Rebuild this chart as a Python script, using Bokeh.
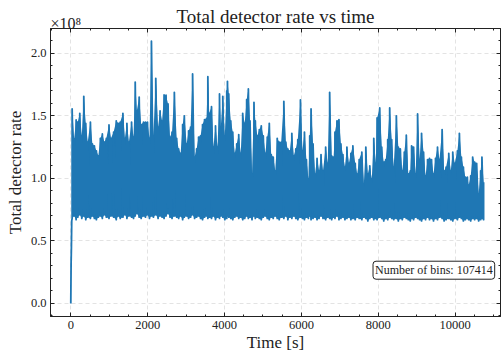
from bokeh.plotting import figure
from bokeh.models import (Range1d, LinearAxis, Label, Title, CustomJSTickFormatter,
                          SingleIntervalTicker, NumeralTickFormatter)
from bokeh.embed import file_html
from bokeh.resources import INLINE

# ---------------- data (rate in units of 1e8 counts/s) ----------------
ramp_t = [0, 8, 16, 24]
ramp_v = [0.0, 0.32, 0.45, 0.66]

time_s = [
    35, 87, 139, 182, 234, 286, 338, 389, 441, 510,
    562, 614, 666, 717, 769, 821, 873, 925, 994, 1046,
    1115, 1183, 1235, 1287, 1356, 1408, 1460, 1512, 1581, 1632,
    1676, 1719, 1779, 1831, 1892, 1943, 1995, 2047, 2098, 2150,
    2211, 2271, 2323, 2375, 2427, 2478, 2530, 2582, 2634, 2694,
    2755, 2806, 2858, 2910, 2953, 3014, 3065, 3117, 3169, 3221,
    3273, 3325, 3376, 3428, 3480, 3532, 3566, 3601,
    3661, 3713, 3765, 3817, 3869, 3903, 3955, 4007, 4058, 4076,
    4110, 4162, 4214, 4266, 4317, 4369, 4421, 4473, 4525, 4576,
    4620, 4663, 4715, 4766, 4801, 4853, 4905, 4956, 5008, 5060,
    5112, 5164, 5215, 5267, 5319, 5371, 5423, 5474, 5543, 5595,
    5647, 5699, 5751, 5802, 5854, 5906, 5975, 6027, 6079, 6130,
    6182, 6217, 6251, 6303, 6355, 6407, 6459, 6510, 6562, 6631,
    6683, 6735, 6787, 6838, 6873, 6925, 6977, 7028, 7080, 7132,
    7184, 7236, 7287, 7339,
    7400, 7451, 7503, 7572, 7624, 7676, 7728, 7779, 7831, 7883,
    7935, 7969, 8038, 8090, 8142, 8194, 8246, 8297, 8349, 8401,
    8470, 8522, 8574, 8625, 8677, 8729, 8781, 8833, 8867, 8919,
    8971, 9023, 9074, 9126, 9178, 9230, 9282, 9333, 9385, 9437,
    9489, 9541, 9592, 9661, 9713, 9765, 9834, 9886, 9938, 9990,
    10059, 10110, 10162, 10214, 10266, 10318, 10352, 10404, 10456, 10507,
    10559, 10611, 10663, 10697, 10740,
]

rate_high = [
    1.555, 1.315, 1.467, 1.45, 1.52, 1.34, 1.656, 1.44, 1.29, 1.45,
    1.275, 1.26, 1.22, 1.18, 1.32, 1.355, 1.29, 1.32, 1.427, 1.32,
    1.37, 1.46, 1.44, 1.45, 1.52, 1.32, 1.44, 1.29, 1.45, 1.33,
    1.77, 1.54, 1.65, 1.43, 1.45, 1.45, 1.45, 1.32, 2.096, 1.34,
    1.80, 1.41, 1.54, 1.46, 1.667, 1.665, 1.595, 1.33, 1.37, 1.688,
    1.32, 1.235, 1.2, 1.43, 1.50, 1.275, 1.38, 1.41, 1.835, 1.17,
    1.235, 1.33, 1.34, 1.43, 1.47, 1.48, 1.813, 1.52,
    1.573, 1.25, 1.42, 1.25, 1.675, 1.41, 1.656, 1.34, 1.70, 1.776,
    1.675, 1.46, 1.37, 1.2, 1.275, 1.35, 1.2, 1.52, 1.44, 1.63,
    1.715, 1.46, 1.035, 1.608, 1.46, 1.34, 1.39, 1.42, 1.34, 1.2,
    1.33, 1.44, 1.19, 1.17, 1.06, 1.32, 1.29, 1.29, 1.616, 1.29,
    1.235, 1.22, 1.36, 1.18, 1.235, 1.31, 1.627, 1.22, 1.37, 1.15,
    0.995, 1.34, 1.555, 1.275, 1.035, 1.16, 1.06, 1.19, 1.06, 1.25,
    1.12, 1.688, 1.18, 1.17, 1.37, 1.46, 1.47, 1.275, 1.19, 1.09,
    1.25, 1.12, 1.2, 1.26,
    1.12, 1.035, 1.15, 1.21, 0.955, 1.25, 1.035, 1.10, 0.995, 1.32,
    1.12, 1.483, 1.563, 1.25, 1.13, 1.15, 1.31, 1.563, 1.31, 1.09,
    1.50, 1.25, 1.235, 1.06, 1.21, 1.345, 1.035, 1.06, 1.26, 1.25,
    1.035, 1.515, 1.15, 1.36, 1.21, 1.02, 1.15, 1.16, 1.15, 1.035,
    1.16, 1.25, 1.15, 1.39, 1.06, 1.09, 1.2, 1.06, 1.21, 1.12,
    1.22, 1.36, 1.17, 1.09, 1.01, 1.01, 0.945, 1.02, 1.17, 1.13,
    1.12, 0.875, 1.06, 1.17, 0.97,
]

rate_low = [
    0.68, 0.70, 0.67, 0.69, 0.71, 0.68, 0.70, 0.67, 0.69, 0.68,
    0.70, 0.68, 0.67, 0.69, 0.70, 0.68, 0.71, 0.69, 0.68, 0.70,
    0.69, 0.67, 0.70, 0.68, 0.69, 0.71, 0.68, 0.70, 0.69, 0.68,
    0.70, 0.72, 0.69, 0.68, 0.70, 0.69, 0.71, 0.68, 0.70, 0.69,
    0.71, 0.68, 0.70, 0.69, 0.68, 0.70, 0.72, 0.69, 0.68, 0.70,
    0.69, 0.68, 0.70, 0.67, 0.69, 0.70, 0.68, 0.69, 0.71, 0.68,
    0.69, 0.70, 0.68, 0.67, 0.69, 0.70, 0.68, 0.69,
    0.68, 0.70, 0.67, 0.69, 0.68, 0.70, 0.69, 0.67, 0.68, 0.70,
    0.69, 0.68, 0.67, 0.69, 0.70, 0.68, 0.69, 0.67, 0.68, 0.70,
    0.68, 0.69, 0.67, 0.70, 0.68, 0.69, 0.68, 0.67, 0.69, 0.70,
    0.68, 0.67, 0.69, 0.68, 0.70, 0.68, 0.67, 0.69, 0.68, 0.70,
    0.67, 0.69, 0.68, 0.70, 0.68, 0.67, 0.69, 0.68, 0.67, 0.69,
    0.68, 0.70, 0.67, 0.68, 0.69, 0.67, 0.68, 0.70, 0.68, 0.67,
    0.69, 0.68, 0.67, 0.69, 0.68, 0.70, 0.67, 0.68, 0.69, 0.67,
    0.68, 0.69, 0.67, 0.68,
    0.67, 0.69, 0.68, 0.67, 0.69, 0.68, 0.66, 0.68, 0.69, 0.67,
    0.68, 0.67, 0.69, 0.68, 0.66, 0.68, 0.67, 0.69, 0.68, 0.67,
    0.68, 0.66, 0.68, 0.67, 0.69, 0.68, 0.67, 0.66, 0.68, 0.67,
    0.69, 0.68, 0.67, 0.66, 0.68, 0.67, 0.69, 0.67, 0.68, 0.66,
    0.68, 0.67, 0.69, 0.68, 0.66, 0.67, 0.68, 0.67, 0.66, 0.68,
    0.67, 0.69, 0.68, 0.66, 0.67, 0.68, 0.67, 0.66, 0.68, 0.67,
    0.68, 0.66, 0.67, 0.68, 0.67,
]

n_bins = 107414
title_text = "Total detector rate vs time"
offset_text = "×10⁸"
x_label = "Time [s]"
y_label = "Total detector rate"

assert len(time_s) == len(rate_high) == len(rate_low), (len(time_s), len(rate_high), len(rate_low))

# ---------------- build the path ----------------
xs = list(ramp_t)
ys = list(ramp_v)
for t, lo, hi in zip(time_s, rate_low, rate_high):
    xs += [t, t]
    ys += [lo, hi]

SERIF = "Liberation Serif"
BLUE = "#1f77b4"
INK = "#222222"

p = figure(width=503, height=356, output_backend="svg", toolbar_location=None,
           x_range=Range1d(-528, 11180), y_range=Range1d(-0.104, 2.198),
           min_border_left=50, min_border_right=3, min_border_top=28,
           min_border_bottom=40, title=title_text)
p.background_fill_color = "white"
p.border_fill_color = "white"
p.outline_line_color = INK
p.outline_line_width = 1

p.title.align = "center"
p.title.text_font = SERIF
p.title.text_font_size = "19px"
p.title.text_font_style = "normal"
p.title.text_color = INK
p.title.standoff = -20

p.varea(x=time_s, y1=rate_low, y2=rate_high, fill_color=BLUE)
p.line(xs, ys, line_color=BLUE, line_width=1.8, line_join="round")

xt = SingleIntervalTicker(interval=2000, num_minor_ticks=4)
yt = SingleIntervalTicker(interval=0.5, num_minor_ticks=5)

def style_axis(ax):
    ax.axis_line_color = INK
    ax.major_tick_line_color = INK
    ax.minor_tick_line_color = INK
    ax.major_tick_in = 4
    ax.major_tick_out = 0
    ax.minor_tick_in = 2
    ax.minor_tick_out = 0
    ax.major_label_text_font = SERIF
    ax.major_label_text_font_size = "12.5px"
    ax.major_label_text_color = INK
    ax.axis_label_text_font = SERIF
    ax.axis_label_text_font_size = "17px"
    ax.axis_label_text_font_style = "normal"
    ax.axis_label_text_color = INK

xa = p.xaxis[0]
ya = p.yaxis[0]
xa.ticker = xt
ya.ticker = yt
xa.formatter = NumeralTickFormatter(format="0")
ya.formatter = NumeralTickFormatter(format="0.0")
xa.axis_label = x_label
ya.axis_label = y_label
style_axis(xa)
style_axis(ya)
xa.major_label_standoff = 4
ya.major_label_standoff = 4
xa.axis_label_standoff = 1
ya.axis_label_standoff = 3

empty = CustomJSTickFormatter(code="return ''")
top = LinearAxis(ticker=xt, formatter=empty)
right = LinearAxis(ticker=yt, formatter=empty)
for ax in (top, right):
    style_axis(ax)
    ax.major_label_standoff = 0
    ax.major_label_text_font_size = "1px"
p.add_layout(top, "above")
p.add_layout(right, "right")

# offset text (x10^8) as a small left-aligned title just above the frame
p.add_layout(Title(text=offset_text, align="left", text_font=SERIF,
                   text_font_size="16px", text_font_style="normal",
                   text_color=INK, standoff=-7), "above")

p.xgrid.ticker = xt
p.ygrid.ticker = yt
for g in (p.xgrid[0], p.ygrid[0]):
    g.grid_line_color = "#dcdcdc"
    g.grid_line_dash = "4 3"
    g.grid_line_width = 0.8

# annotation box
p.add_layout(Label(x=9446, y=0.266, text=f"Number of bins: {n_bins}",
                   text_font=SERIF, text_font_size="12px", text_color=INK,
                   text_align="center", text_baseline="middle",
                   border_line_color=INK, border_line_width=1,
                   background_fill_color="white", padding=2, border_radius=3))

open("out.html", "w").write(file_html(p, INLINE))
